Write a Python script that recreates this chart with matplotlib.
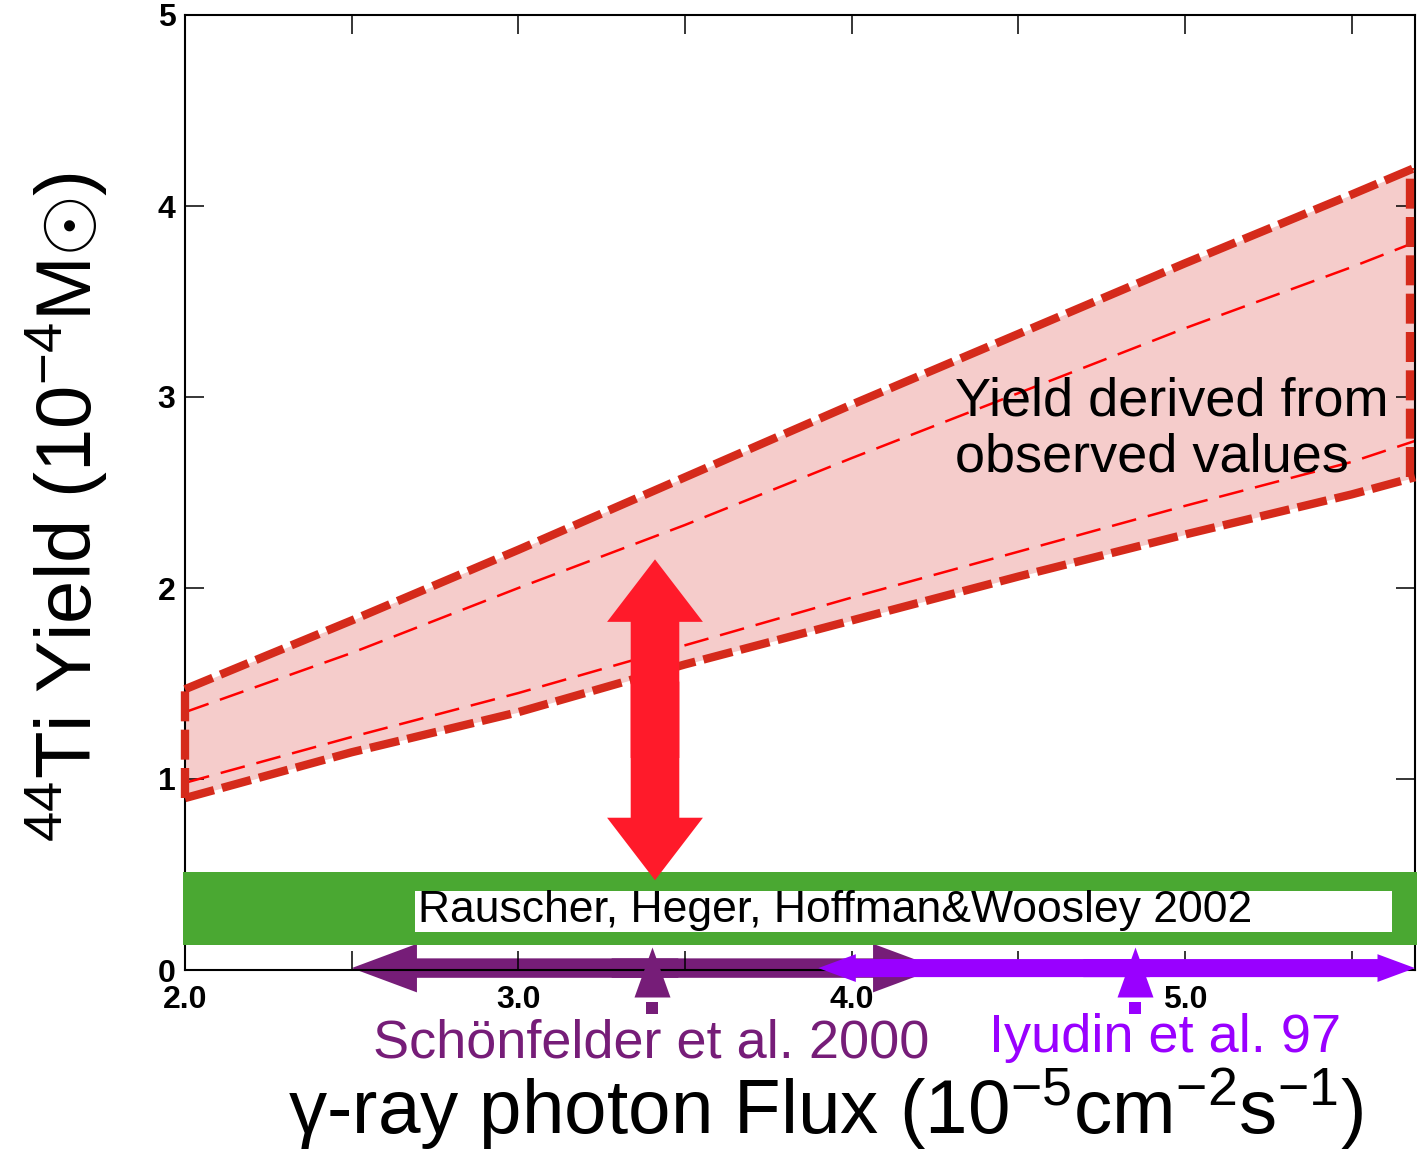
import matplotlib
matplotlib.use('Agg')
import matplotlib.pyplot as plt
from matplotlib.patches import FancyArrowPatch, Rectangle

plt.rcParams['font.family'] = ['Liberation Sans', 'DejaVu Sans']
plt.rcParams['mathtext.fontset'] = 'custom'
plt.rcParams['mathtext.rm'] = 'Liberation Sans'
plt.rcParams['mathtext.it'] = 'Liberation Sans:italic'
plt.rcParams['mathtext.bf'] = 'Liberation Sans:bold'

# band of 44Ti yield derived from the observed flux
flux = [2.0, 2.5, 3.0, 3.5, 4.0, 4.5, 5.0, 5.5, 5.69]
yield_max = [1.47, 1.83, 2.20, 2.58, 2.96, 3.33, 3.70, 4.06, 4.20]
yield_mid_hi = [1.35, 1.66, 2.00, 2.33, 2.68, 3.02, 3.36, 3.68, 3.81]
yield_mid_lo = [0.98, 1.22, 1.45, 1.70, 1.95, 2.19, 2.43, 2.66, 2.77]
yield_min = [0.90, 1.14, 1.35, 1.60, 1.83, 2.06, 2.28, 2.49, 2.58]

# model prediction (Rauscher et al. 2002)
model_lo = 0.13
model_hi = 0.515
model_label = 'Rauscher, Heger, Hoffman&Woosley 2002'

# observed flux ranges
obs_names = ['Schönfelder et al. 2000', 'Iyudin et al. 97']
obs_center = [3.40, 4.85]
obs_lo = [2.50, 3.90]
obs_hi = [4.26, 5.69]
obs_colors = ['#761d78', '#9900ff']

# discrepancy arrow
gap_x = 3.41
gap_lo = 0.47
gap_hi = 2.15

xticks = [2.0, 2.5, 3.0, 3.5, 4.0, 4.5, 5.0, 5.5]
xticklabels = ['2.0', '', '3.0', '', '4.0', '', '5.0', '']
yticks = [0, 1, 2, 3, 4, 5]

fig = plt.figure(figsize=(14.17, 11.52), dpi=100)
ax = fig.add_axes([185/1417, 182/1152, 1230/1417, 955/1152])
ax.set_xlim(2.0, 5.69)
ax.set_ylim(0, 5)

# yield band
ax.fill_between(flux, yield_min, yield_max, color='#f5cccb', lw=0, zorder=1)
thick = dict(color='#d52a1b', lw=6, ls=(0, (3.6, 1.0)), dash_capstyle='butt', clip_on=False, zorder=3)
ax.plot(flux, yield_max, **thick)
ax.plot(flux, yield_min, **thick)
ax.plot([flux[0], flux[0]], [yield_min[0], yield_max[0]], **thick)
ax.plot([flux[-1] - 0.015, flux[-1] - 0.015], [yield_min[-1], yield_max[-1]], **thick)
thin = dict(color='#ff0000', lw=1.8, ls=(0, (10, 4.8)), zorder=2)
ax.plot(flux, yield_mid_hi, **thin)
ax.plot(flux, yield_mid_lo, **thin)
ax.text(4.31, 2.61, 'Yield derived from\nobserved values', fontsize=39,
        ha='left', va='baseline', linespacing=1.15, zorder=4)

# model band
ax.add_patch(Rectangle((1.995, model_lo), 5.70 - 1.995, model_hi - model_lo,
                       color='#4aa832', lw=0, clip_on=False, zorder=3))
ax.add_patch(Rectangle((2.69, 0.20), 5.62 - 2.69, 0.215, color='white', lw=0, zorder=3.1))
ax.text(2.70, 0.25, model_label, fontsize=32, ha='left', va='baseline', zorder=3.2)

# red double arrow (two halves overlapping in the middle)
mid = (gap_lo + gap_hi) / 2
for start, end in [(mid + 0.2, gap_lo), (mid - 0.2, gap_hi)]:
    ax.add_patch(FancyArrowPatch((gap_x, start), (gap_x, end),
                                 arrowstyle='simple,head_length=45,head_width=69,tail_width=35',
                                 mutation_scale=1, shrinkA=0, shrinkB=0,
                                 color='#ff1a2a', lw=0, zorder=5))

# observed flux arrows
styles = ['simple,head_length=47,head_width=35,tail_width=14',
          'simple,head_length=27,head_width=20,tail_width=13']
zs = [1.2, 4]
text_y = [-0.456, -0.43]
text_x = [3.40, 4.94]
for i in range(2):
    c = (obs_lo[i] + obs_hi[i]) / 2
    for start, end in [(c + 0.1, obs_lo[i]), (c - 0.1, obs_hi[i])]:
        ax.add_patch(FancyArrowPatch((start, 0.01), (end, 0.01), arrowstyle=styles[i],
                                     mutation_scale=1, shrinkA=0, shrinkB=0,
                                     color=obs_colors[i], lw=0, clip_on=False, zorder=zs[i]))
    ax.plot(obs_center[i], -0.01, marker=[(0, 1), (-0.72, -1), (0.72, -1)], ms=36,
            color=obs_colors[i], mew=0, clip_on=False, zorder=4.5)
    ax.plot(obs_center[i], -0.2, marker='s', ms=8, color=obs_colors[i], mew=0,
            clip_on=False, zorder=4.5)
    ax.text(text_x[i], text_y[i], obs_names[i], color=obs_colors[i], fontsize=39,
            ha='center', va='baseline', clip_on=False)

# axes styling
for s in ax.spines.values():
    s.set_linewidth(1.5)
ax.set_xticks(xticks)
ax.set_xticklabels(xticklabels, fontsize=23, fontweight='bold')
ax.set_yticks(yticks)
ax.set_yticklabels([str(v) for v in yticks], fontsize=23, fontweight='bold')
ax.tick_params(direction='in', length=14, width=1.1, top=True, right=True)
ax.tick_params(axis='x', pad=11)
ax.tick_params(axis='y', pad=7)

fig.text(92/1417, 0.56, r'$^{44}$Ti Yield (10$^{-4}$M$\odot$)', fontsize=56,
         rotation=90, rotation_mode='anchor', ha='center', va='baseline')
fig.text(826/1417, 1 - 1134/1152,
         r'$\mathrm{\gamma}$-ray photon Flux (10$^{-5}$cm$^{-2}$s$^{-1}$)', fontsize=55,
         ha='center', va='baseline')

fig.savefig('out.png', dpi=100)
